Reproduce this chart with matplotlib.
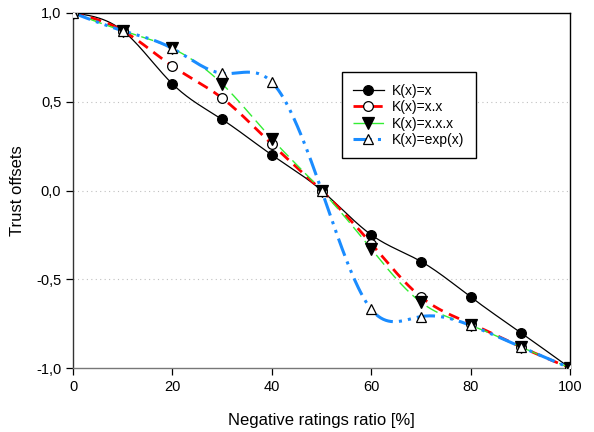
import numpy as np
import matplotlib
matplotlib.use("Agg")
import matplotlib.pyplot as plt
from matplotlib.ticker import FuncFormatter

plt.rcParams['font.family'] = ['Liberation Sans', 'DejaVu Sans']

# data
ratio = [0, 10, 20, 30, 40, 50, 60, 70, 80, 90, 100]
k_lin = [1.0, 0.9, 0.6, 0.4, 0.2, 0.0, -0.25, -0.4, -0.6, -0.8, -1.0]
k_sq = [1.0, 0.9, 0.7, 0.52, 0.26, 0.0, -0.3, -0.6, -0.75, -0.88, -1.0]
k_cube = [1.0, 0.9, 0.8, 0.6, 0.29, 0.0, -0.33, -0.63, -0.76, -0.88, -1.0]
k_exp = [1.0, 0.9, 0.8, 0.66, 0.61, 0.0, -0.67, -0.71, -0.76, -0.88, -1.0]
labels = ["K(x)=x", "K(x)=x.x", "K(x)=x.x.x", "K(x)=exp(x)"]


def natural_spline(x, y, n=400):
    # natural cubic spline, used only to draw the smoothed connecting lines
    x = np.asarray(x, float)
    y = np.asarray(y, float)
    m = len(x)
    h = np.diff(x)
    A = np.zeros((m, m))
    b = np.zeros(m)
    A[0, 0] = A[-1, -1] = 1
    for i in range(1, m - 1):
        A[i, i - 1] = h[i - 1]
        A[i, i] = 2 * (h[i - 1] + h[i])
        A[i, i + 1] = h[i]
        b[i] = 6 * ((y[i + 1] - y[i]) / h[i] - (y[i] - y[i - 1]) / h[i - 1])
    M = np.linalg.solve(A, b)
    xs = np.linspace(x[0], x[-1], n)
    idx = np.clip(np.searchsorted(x, xs) - 1, 0, m - 2)
    x0, x1 = x[idx], x[idx + 1]
    hh = x1 - x0
    t0, t1 = x1 - xs, xs - x0
    ys = (M[idx] * t0**3 + M[idx + 1] * t1**3) / (6 * hh) \
        + (y[idx] / hh - M[idx] * hh / 6) * t0 \
        + (y[idx + 1] / hh - M[idx + 1] * hh / 6) * t1
    return xs, ys


fig = plt.figure(figsize=(5.94, 4.32), dpi=100)
ax = fig.add_axes([0.123, 0.148, 0.837, 0.822])

styles = [
    dict(color='black', lw=0.9, ls='-', marker='o', mfc='black', ms=7),
    dict(color='#ff0000', lw=2.0, ls=(0, (4, 2.5)), marker='o', mfc='white', ms=7),
    dict(color='#33ee33', lw=1.0, ls=(0, (9, 4)), marker='v', mfc='black', ms=8),
    dict(color='#1a8cff', lw=2.2, ls=(0, (6, 2, 1, 2, 1, 2)), marker='^', mfc='white', ms=7),
]
series = [k_lin, k_sq, k_cube, k_exp]

for vals, lab, st in zip(series, labels, styles):
    xs, ys = natural_spline(ratio, vals)
    ax.plot(xs, ys, color=st['color'], lw=st['lw'], ls=st['ls'], zorder=2)
    ax.plot(ratio, vals, ls='none', marker=st['marker'], mfc=st['mfc'],
            mec='black', mew=0.9, ms=st['ms'], zorder=3)
    ax.plot([], [], color=st['color'], lw=st['lw'], ls=st['ls'],
            marker=st['marker'], mfc=st['mfc'], mec='black', mew=0.9,
            ms=st['ms'], label=lab)

ax.set_xlim(0, 100)
ax.set_ylim(-1, 1)
ax.set_xticks([0, 20, 40, 60, 80, 100])
ax.set_yticks([-1, -0.5, 0, 0.5, 1])
ax.yaxis.set_major_formatter(FuncFormatter(lambda v, p: f"{v:.1f}".replace('.', ',')))
for yv in [-0.5, 0, 0.5]:
    ax.axhline(yv, color='#c0c0c0', lw=0.8, ls=(0, (1, 3)), zorder=1)

ax.tick_params(direction='out', length=5, width=0.9, labelsize=10.5, color='black')
for sp in ax.spines.values():
    sp.set_linewidth(1.0)
ax.spines['left'].set_color('#333333')
ax.spines['bottom'].set_color('#777777')

ax.set_xlabel("Negative ratings ratio [%]", fontsize=12, labelpad=14)
ax.set_ylabel("Trust offsets", fontsize=12, labelpad=8)

leg = ax.legend(loc='upper left', bbox_to_anchor=(0.527, 0.852), fontsize=10,
                fancybox=False, edgecolor='black', framealpha=1,
                handlelength=2.2, handletextpad=0.6, borderpad=0.8,
                labelspacing=0.18)
leg.get_frame().set_linewidth(1.0)

fig.savefig("out.png", dpi=100)
